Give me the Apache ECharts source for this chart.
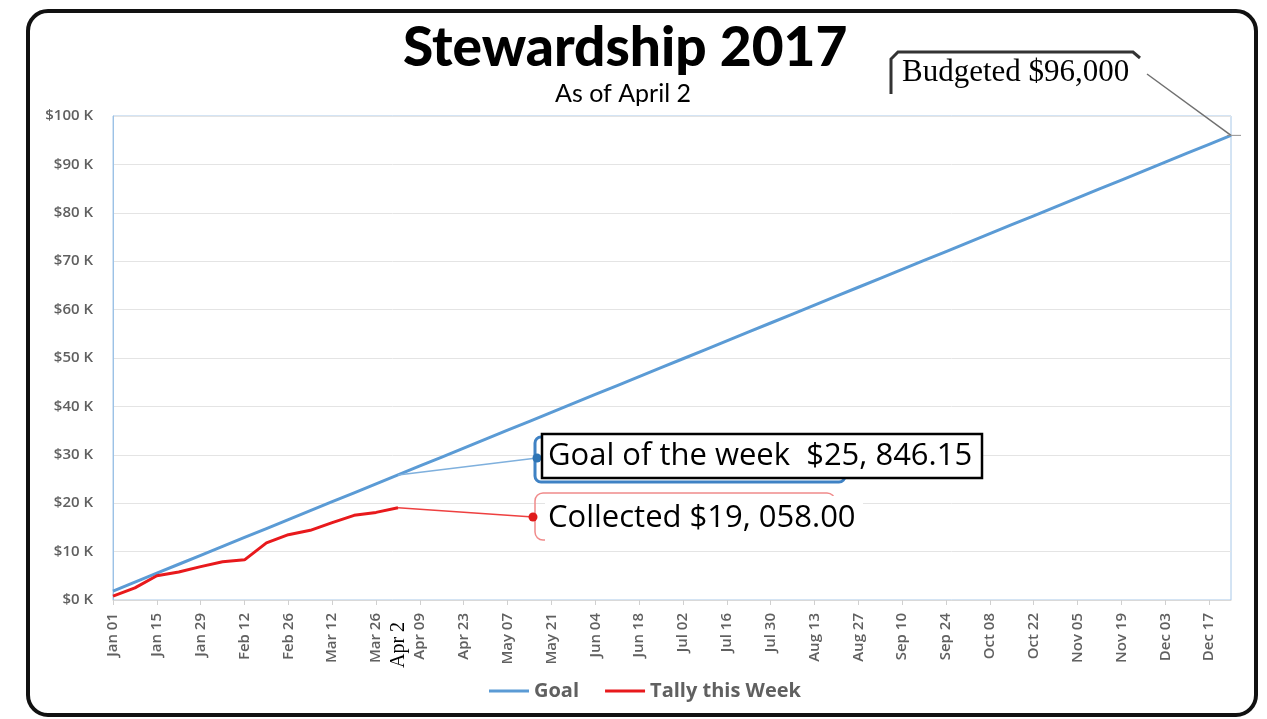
<!DOCTYPE html>
<html>
<head>
<meta charset="utf-8">
<title>Stewardship 2017</title>
<script src="https://cdn.jsdelivr.net/npm/echarts@6.0.0/dist/echarts.min.js"></script>
<style>
  html, body { margin: 0; padding: 0; background: #fff; }
  #main { width: 1267px; height: 719px; }
</style>
</head>
<body>
<div id="main"></div>
<script>
// weekly categories, 2017
const weeks = [
  'Jan 01', 'Jan 08', 'Jan 15', 'Jan 22', 'Jan 29', 'Feb 05', 'Feb 12', 'Feb 19', 'Feb 26',
  'Mar 05', 'Mar 12', 'Mar 19', 'Mar 26', 'Apr 02', 'Apr 09', 'Apr 16', 'Apr 23', 'Apr 30',
  'May 07', 'May 14', 'May 21', 'May 28', 'Jun 04', 'Jun 11', 'Jun 18', 'Jun 25', 'Jul 02',
  'Jul 09', 'Jul 16', 'Jul 23', 'Jul 30', 'Aug 06', 'Aug 13', 'Aug 20', 'Aug 27', 'Sep 03',
  'Sep 10', 'Sep 17', 'Sep 24', 'Oct 01', 'Oct 08', 'Oct 15', 'Oct 22', 'Oct 29', 'Nov 05',
  'Nov 12', 'Nov 19', 'Nov 26', 'Dec 03', 'Dec 10', 'Dec 17', 'Dec 24',
];

const goal = [
  1846, 3692, 5538, 7385, 9231, 11077, 12923, 14769, 16615, 18462, 20308, 22154, 24000,
  25846.15, 27692, 29538, 31385, 33231, 35077, 36923, 38769, 40615, 42462, 44308, 46154,
  48000, 49846, 51692, 53538, 55385, 57231, 59077, 60923, 62769, 64615, 66462, 68308,
  70154, 72000, 73846, 75692, 77538, 79385, 81231, 83077, 84923, 86769, 88615, 90462,
  92308, 94154, 96000,
];

const tally = [
  800, 2500, 5000, 5800, 6900, 7900, 8300, 11800, 13500, 14400, 16000, 17500, 18100, 19058,
];

const currentWeek = 13; // Apr 02
const budget = 96000;

const chart = echarts.init(document.getElementById('main'));

chart.setOption({
  animation: false,
  title: [
    {
      text: 'Stewardship 2017',
      left: 398,
      top: 16,
      textStyle: {
        fontFamily: 'Lato',
        fontSize: 55,
        fontWeight: 900,
        color: '#000',
      },
    },
    {
      text: 'As of April 2',
      left: 550,
      top: 76,
      textStyle: {
        fontFamily: 'Lato',
        fontSize: 25,
        fontWeight: 400,
        color: '#000',
      },
    },
  ],
  grid: {
    left: 113,
    right: 36,
    top: 116,
    bottom: 119,
    show: true,
    borderColor: '#a8c8e8',
    borderWidth: 1,
  },
  legend: {
    bottom: 13,
    left: 484,
    itemGap: 26,
    itemWidth: 40,
    itemHeight: 3,
    textStyle: {
      fontFamily: 'Open Sans',
      fontSize: 20,
      fontWeight: 'bold',
      color: '#606060',
    },
    data: [
      { name: 'Goal', icon: 'rect' },
      { name: 'Tally this Week', icon: 'rect' },
    ],
  },
  xAxis: {
    type: 'category',
    data: weeks,
    boundaryGap: false,
    axisLine: { show: true, lineStyle: { color: '#d9d9d9' } },
    axisTick: { show: true, interval: 1, length: 5, lineStyle: { color: '#d0d0d0' } },
    axisLabel: {
      interval: 1,
      rotate: 90,
      margin: 13,
      fontFamily: 'Open Sans',
      fontSize: 15,
      fontWeight: 600,
      color: '#606060',
    },
    splitLine: { show: false },
  },
  yAxis: {
    type: 'value',
    min: 0,
    max: 100000,
    interval: 10000,
    axisLine: { show: true, lineStyle: { color: '#9cc2e6' } },
    axisTick: { show: false },
    axisLabel: {
      margin: 20,
      fontFamily: 'Open Sans',
      fontSize: 15,
      fontWeight: 600,
      color: '#606060',
      formatter: (v) => '$' + v / 1000 + ' K',
    },
    splitLine: { lineStyle: { color: '#e4e4e4' } },
  },
  series: [
    {
      name: 'Goal',
      type: 'line',
      data: goal,
      symbol: 'none',
      color: '#5b9bd5',
      lineStyle: { width: 3, color: '#5b9bd5' },
      z: 3,
    },
    {
      name: 'Tally this Week',
      type: 'line',
      data: tally,
      symbol: 'none',
      color: '#e8191c',
      lineStyle: { width: 3, color: '#e8191c' },
      z: 4,
    },
  ],
});

// callouts are placed relative to the data points they point at
const toPx = (i, v) => chart.convertToPixel({ xAxisIndex: 0, yAxisIndex: 0 }, [i, v]);
const pGoal = toPx(currentWeek, goal[currentWeek]);
const pTally = toPx(currentWeek, tally[currentWeek]);
const pBudget = toPx(weeks.length - 1, budget);

const calloutFont = '31px "Open Sans"';
const serifFont = '31px "Liberation Serif"';

chart.setOption({
  graphic: [
    {
      type: 'rect',
      z: 100,
      shape: { x: 28, y: 11, width: 1228, height: 704, r: 20 },
      style: { fill: 'none', stroke: '#111', lineWidth: 4 },
    },
    // Goal of the week
    {
      type: 'line',
      z: 100,
      shape: { x1: pGoal[0], y1: pGoal[1], x2: 537, y2: 458 },
      style: { stroke: '#7fb0dd', lineWidth: 1.5 },
    },
    {
      type: 'rect',
      z: 100,
      shape: { x: 535, y: 437, width: 310, height: 45, r: 6 },
      style: { fill: 'none', stroke: '#3f82c4', lineWidth: 3 },
    },
    {
      type: 'circle',
      z: 101,
      shape: { cx: 537, cy: 458, r: 4.5 },
      style: { fill: '#2f75b5' },
    },
    {
      type: 'rect',
      z: 102,
      shape: { x: 542, y: 434, width: 440, height: 44 },
      style: { fill: '#fff', stroke: '#000', lineWidth: 2.5 },
    },
    {
      type: 'text',
      z: 103,
      style: {
        x: 548, y: 456, text: 'Goal of the week  $25, 846.15',
        font: calloutFont, fill: '#000', verticalAlign: 'middle',
      },
    },
    // Collected
    {
      type: 'line',
      z: 100,
      shape: { x1: pTally[0], y1: pTally[1], x2: 533, y2: 517 },
      style: { stroke: '#ee4040', lineWidth: 1.5 },
    },
    {
      type: 'rect',
      z: 100,
      shape: { x: 535, y: 493, width: 300, height: 47, r: 8 },
      style: { fill: 'none', stroke: '#f08a8a', lineWidth: 1.5 },
    },
    {
      type: 'circle',
      z: 101,
      shape: { cx: 533, cy: 517, r: 4.5 },
      style: { fill: '#e01b1b' },
    },
    {
      type: 'rect',
      z: 102,
      shape: { x: 545, y: 496, width: 318, height: 46 },
      style: { fill: '#fff' },
    },
    {
      type: 'text',
      z: 103,
      style: {
        x: 548, y: 518, text: 'Collected $19, 058.00',
        font: calloutFont, fill: '#000', verticalAlign: 'middle',
      },
    },
    // Budgeted
    {
      type: 'line',
      z: 100,
      shape: { x1: pBudget[0], y1: pBudget[1], x2: 1147, y2: 74 },
      style: { stroke: '#707070', lineWidth: 1.5 },
    },
    {
      type: 'line',
      z: 100,
      shape: { x1: pBudget[0] - 4, y1: pBudget[1], x2: pBudget[0] + 10, y2: pBudget[1] },
      style: { stroke: '#909090', lineWidth: 1 },
    },
    {
      type: 'rect',
      z: 101,
      shape: { x: 891, y: 52, width: 250, height: 43 },
      style: { fill: '#fff' },
    },
    {
      type: 'polyline',
      z: 102,
      shape: { points: [[891, 94], [891, 59], [898, 52], [1133, 52], [1140, 58]] },
      style: { fill: 'none', stroke: '#333', lineWidth: 3 },
    },
    {
      type: 'text',
      z: 103,
      style: {
        x: 902, y: 73, text: 'Budgeted $96,000',
        font: serifFont, fill: '#000', verticalAlign: 'middle',
      },
    },
    // week marker on the axis
    {
      type: 'text',
      z: 103,
      x: pGoal[0] + 1,
      y: 645,
      rotation: Math.PI / 2,
      style: {
        x: 0, y: 0, text: 'Apr 2',
        font: '20px "Liberation Serif"', fill: '#000',
        align: 'center', verticalAlign: 'middle',
      },
    },
  ],
});
</script>
</body>
</html>
